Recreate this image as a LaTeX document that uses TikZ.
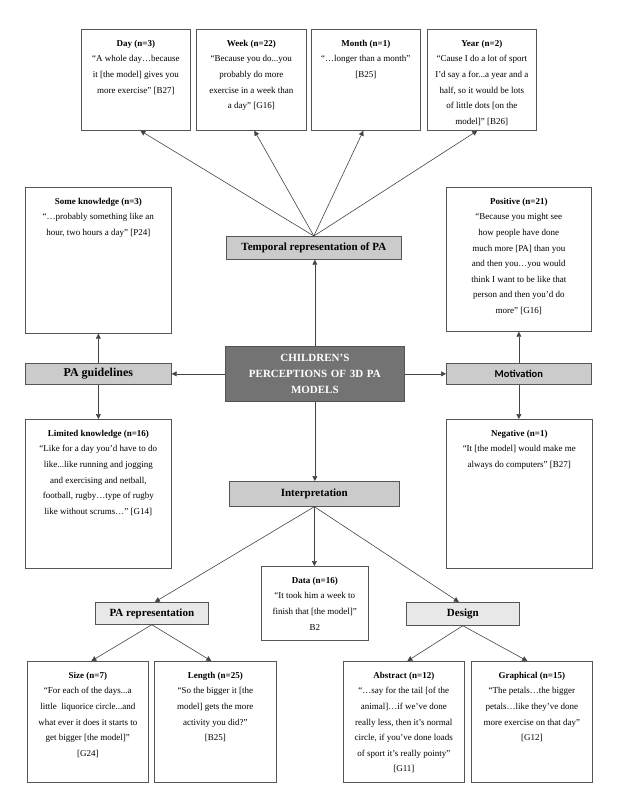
\documentclass[tikz,border=0pt]{standalone}
\usepackage{fontspec}
\setmainfont{Liberation Serif}
\newfontfamily\carl{Carlito}
\usetikzlibrary{arrows.meta}
\definecolor{boxc}{HTML}{555555}
\definecolor{linec}{HTML}{444444}
\definecolor{gbg}{HTML}{CBCBCB}
\definecolor{lbg}{HTML}{E8E8E8}
\definecolor{cbg}{HTML}{737373}
\tikzset{
 qbox/.style={draw=boxc, line width=0.7pt, inner sep=0pt, anchor=north west, fill=white},
 gbox/.style={draw=boxc, line width=0.7pt, fill=gbg, inner sep=0pt, anchor=north west, font=\fontsize{11}{13}\selectfont\bfseries},
 lbox/.style={gbox, fill=lbg},
 cbox/.style={draw=boxc, line width=0.7pt, fill=cbg, inner sep=0pt, anchor=north west, text=white, align=center, font=\fontsize{11}{16}\selectfont\bfseries},
 conn/.style={draw=linec, line width=0.6pt, -{Triangle[length=5pt,width=5pt]}}
}
\newcommand\qtext[3]{\begin{minipage}[t][#2][t]{#1}\centering\fontsize{9}{15.6}\selectfont\rule{0pt}{17pt}#3\end{minipage}}
\begin{document}
\begin{tikzpicture}[x=1pt,y=-1pt]
\useasboundingbox (0,0) rectangle (616,800);
% top row
\node[qbox] (day) at (81,29) {\qtext{109pt}{101pt}{\textbf{Day (n=3)}\\“A whole day…because\\it [the model] gives you\\more exercise” [B27]}};
\node[qbox] (week) at (196,29) {\qtext{110pt}{101pt}{\textbf{Week (n=22)}\\“Because you do...you\\probably do more\\exercise in a week than\\a day” [G16]}};
\node[qbox] (month) at (311,29) {\qtext{109pt}{101pt}{\textbf{Month (n=1)}\\“…longer than a month”\\{[B25]}}};
\node[qbox] (year) at (427,29) {\qtext{109pt}{101pt}{\textbf{Year (n=2)}\\“Cause I do a lot of sport\\I’d say a for...a year and a\\half, so it would be lots\\of little dots [on the\\model]” [B26]}};
\node[gbox, minimum width=175pt, minimum height=23pt] (temporal) at (226,236) {Temporal representation of PA};
% left column
\node[qbox] (someK) at (25,187) {\qtext{146pt}{146pt}{\textbf{Some knowledge (n=3)}\\“…probably something like an\\hour, two hours a day” [P24]}};
\node[gbox, minimum width=146pt, minimum height=21pt, font=\fontsize{12}{14}\selectfont\bfseries] (guide) at (25,363) {PA guidelines};
\node[qbox] (limited) at (25,419) {\qtext{146pt}{149pt}{\textbf{Limited knowledge (n=16)}\\“Like for a day you’d have to do\\like...like running and jogging\\and exercising and netball,\\football, rugby…type of rugby\\like without scrums…” [G14]}};
% right column
\node[qbox] (positive) at (446,187) {\qtext{145pt}{144pt}{\textbf{Positive (n=21)}\\“Because you might see\\how people have done\\much more [PA] than you\\and then you…you would\\think I want to be like that\\person and then you’d do\\more” [G16]}};
\node[gbox, minimum width=145pt, minimum height=21pt, font=\carl\fontsize{10.5}{12}\selectfont\bfseries] (motiv) at (446,363) {Motivation};
\node[qbox] (negative) at (446,419) {\qtext{146pt}{149pt}{\textbf{Negative (n=1)}\\“It [the model] would make me\\always do computers” [B27]}};
% centre
\node[cbox, minimum width=179pt, minimum height=55pt, text width=175pt] (center) at (225,346) {CHILDREN’S\\PERCEPTIONS OF 3D PA\\MODELS};
\node[gbox, minimum width=170pt, minimum height=25pt] (interp) at (229,481) {Interpretation};
\node[qbox] (data) at (261,566) {\qtext{107pt}{74pt}{\textbf{Data (n=16)}\\“It took him a week to\\finish that [the model]”\\B2}};
\node[lbox, minimum width=113pt, minimum height=22pt] (parep) at (95,602) {PA representation};
\node[lbox, minimum width=113pt, minimum height=23pt] (design) at (406,602) {Design};
% bottom row
\node[qbox] (size) at (27,661) {\qtext{121pt}{121pt}{\textbf{Size (n=7)}\\“For each of the days...a\\little\ \ liquorice circle...and\\what ever it does it starts to\\get bigger [the model]”\\{[G24]}}};
\node[qbox] (length) at (154,661) {\qtext{122pt}{121pt}{\textbf{Length (n=25)}\\“So the bigger it [the\\model] gets the more\\activity you did?”\\{[B25]}}};
\node[qbox] (abstract) at (343,661) {\qtext{121pt}{121pt}{\textbf{Abstract (n=12)}\\“…say for the tail [of the\\animal]…if we’ve done\\really less, then it’s normal\\circle, if you’ve done loads\\of sport it’s really pointy”\\{[G11]}}};
\node[qbox] (graphical) at (471,661) {\qtext{121pt}{121pt}{\textbf{Graphical (n=15)}\\“The petals…the bigger\\petals…like they’ve done\\more exercise on that day”\\{[G12]}}};
% connectors
\draw[conn] (temporal.north) -- ([xshift=4.5pt]day.south);
\draw[conn] (temporal.north) -- ([xshift=3pt]week.south);
\draw[conn] (temporal.north) -- ([xshift=-2.5pt]month.south);
\draw[conn] (temporal.north) -- ([xshift=-4.5pt]year.south);
\draw[conn] (center.north) -- (center.north |- temporal.south);
\draw[conn] (center.west) -- (guide.east);
\draw[conn] (center.east) -- (motiv.west);
\draw[conn] (center.south) -- (center.south |- interp.north);
\draw[conn] (guide.north) -- (someK.south);
\draw[conn] (guide.south) -- (limited.north);
\draw[conn] (motiv.north) -- (positive.south);
\draw[conn] (motiv.south) -- (motiv.south |- negative.north);
\draw[conn] (interp.south) -- (interp.south |- data.north);
\draw[conn] (interp.south) -- ([xshift=3pt]parep.north);
\draw[conn] (interp.south) -- ([xshift=-4pt]design.north);
\draw[conn] (parep.south) -- ([xshift=3.5pt]size.north);
\draw[conn] (parep.south) -- ([xshift=-4pt]length.north);
\draw[conn] (design.south) -- ([xshift=3.5pt]abstract.north);
\draw[conn] (design.south) -- ([xshift=-4.5pt]graphical.north);
\end{tikzpicture}
\end{document}
